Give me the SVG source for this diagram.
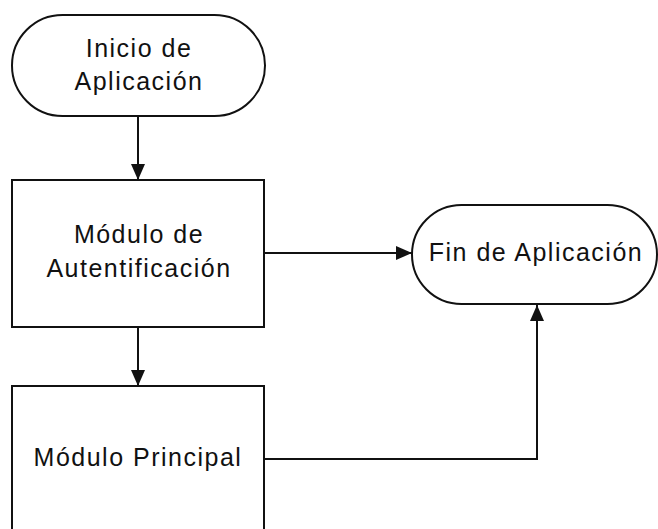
<svg xmlns="http://www.w3.org/2000/svg" width="658" height="529" viewBox="0 0 658 529">
<style>
.shape{fill:#fff;stroke:#111;stroke-width:2}
.lbl{font-family:"Liberation Sans",Arial,sans-serif;font-size:25px;fill:#111;text-anchor:middle;letter-spacing:1.5px}
.conn{fill:none;stroke:#111;stroke-width:2}
</style>
<defs>
<marker id="arr" markerWidth="16" markerHeight="14" refX="16" refY="7" orient="auto" markerUnits="userSpaceOnUse">
<path d="M0,0 L16,7 L0,14 Z" fill="#111"/>
</marker>
</defs>
<rect width="658" height="529" fill="#fff"/>
<g id="connectors">
<line class="conn" x1="138" y1="116" x2="138" y2="180" marker-end="url(#arr)"/>
<line class="conn" x1="138" y1="327" x2="138" y2="386" marker-end="url(#arr)"/>
<line class="conn" x1="264" y1="253" x2="412" y2="253" marker-end="url(#arr)"/>
<polyline class="conn" points="264,459 537,459 537,305" marker-end="url(#arr)"/>
</g>
<g id="inicio">
<rect class="shape" x="12" y="15" width="253" height="101" rx="50.5" ry="50.5"/>
<text class="lbl" x="139" y="57">Inicio de</text>
<text class="lbl" x="139" y="90">Aplicación</text>
</g>
<g id="autenticacion">
<rect class="shape" x="12" y="180" width="252" height="147"/>
<text class="lbl" x="139" y="243">Módulo de</text>
<text class="lbl" x="139" y="277">Autentificación</text>
</g>
<g id="principal">
<rect class="shape" x="12" y="386" width="252" height="160"/>
<text class="lbl" x="138" y="466">Módulo Principal</text>
</g>
<g id="fin">
<rect class="shape" x="412" y="205" width="245" height="99" rx="49.5" ry="49.5"/>
<text class="lbl" x="536" y="261">Fin de Aplicación</text>
</g>
</svg>
